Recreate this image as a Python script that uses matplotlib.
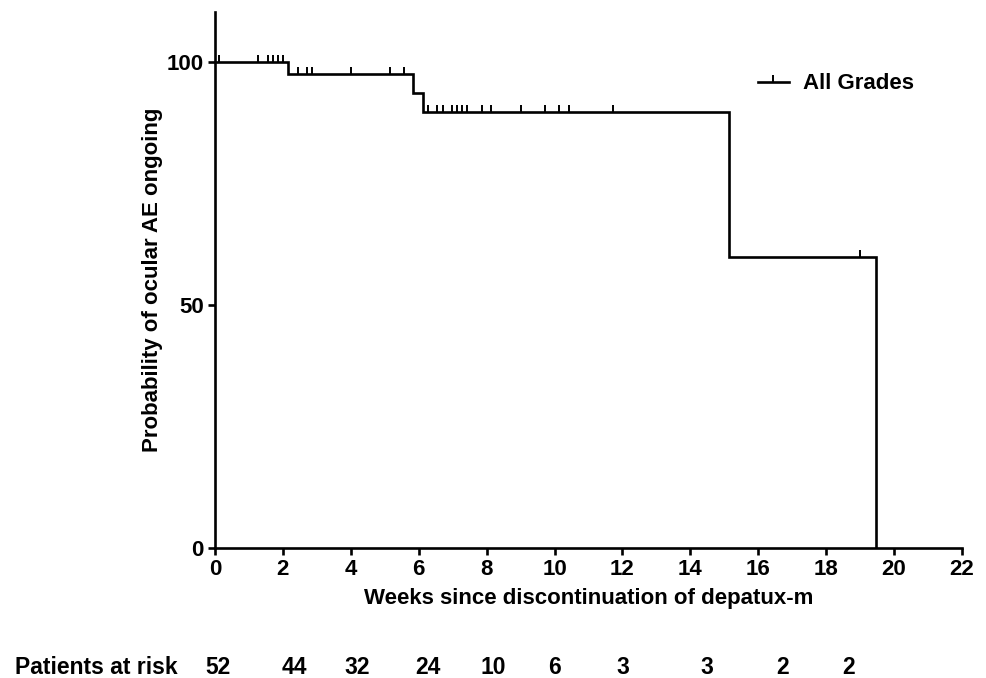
import matplotlib
matplotlib.use("Agg")
import matplotlib.pyplot as plt

plt.rcParams['font.family'] = ['Liberation Sans', 'DejaVu Sans']
plt.rcParams['font.weight'] = 'bold'

# Kaplan-Meier step data
step_times = [0, 2.15, 5.83, 6.13, 15.14, 19.47]
step_probs = [100, 97.6, 93.7, 89.8, 59.9, 0]

censor_times = [0.12, 1.27, 1.56, 1.71, 1.86, 2.01,
                2.43, 2.72, 2.87, 4.0, 5.15, 5.57,
                6.28, 6.55, 6.72, 6.97, 7.12, 7.26, 7.41, 7.85, 8.14, 9.0, 9.72, 10.14, 10.43, 11.71,
                19.0]

risk_label = "Patients at risk"
risk_counts = [52, 44, 32, 24, 10, 6, 3, 3, 2, 2]
risk_positions = [0.09, 2.33, 4.18, 6.27, 8.19, 10.0, 12.0, 14.5, 16.73, 18.67]

x_ticks = list(range(0, 23, 2))
y_ticks = [0, 50, 100]

def prob_at(t):
    p = step_probs[0]
    for st, sp in zip(step_times, step_probs):
        if t >= st:
            p = sp
    return p

fig = plt.figure(figsize=(9.87, 6.78), dpi=100)
ax = fig.add_axes([215/987, 1-548/678, 747/987, 536/678])

ax.step(step_times, step_probs, where='post', color='black', lw=1.9, solid_joinstyle='miter')
ax.plot(censor_times, [prob_at(t) for t in censor_times], linestyle='none',
        marker=2, markersize=5, mew=1.4, color='black')

# legend
ax.plot([], [], color='black', lw=1.9, marker=2, markersize=5, mew=1.4, label='All Grades')
leg = ax.legend(loc='center left', bbox_to_anchor=(0.7, 1-72/536), frameon=False,
                handlelength=1.4, fontsize=16, handletextpad=0.65)

ax.set_xlim(0, 22)
ax.set_ylim(0, 110.3)
ax.set_xticks(x_ticks)
ax.set_yticks(y_ticks)
ax.spines['top'].set_visible(False)
ax.spines['right'].set_visible(False)
for s in ['left', 'bottom']:
    ax.spines[s].set_linewidth(1.9)
ax.tick_params(axis='both', which='major', direction='out', length=5, width=1.9,
               labelsize=16, pad=3)
for lab in ax.get_xticklabels() + ax.get_yticklabels():
    lab.set_fontweight('bold')

ax.set_xlabel("Weeks since discontinuation of depatux-m", fontsize=16, fontweight='bold', labelpad=6)
ax.set_ylabel("Probability of ocular AE ongoing", fontsize=16, fontweight='bold', labelpad=3)

# risk table
fig.text(15/987, 1-668/678, risk_label, fontsize=16.5, fontweight='bold', ha='left', va='center')
for pos, n in zip(risk_positions, risk_counts):
    xf = (215 + pos*747/22)/987
    fig.text(xf, 1-668/678, str(n), fontsize=16.5, fontweight='bold', ha='center', va='center')

fig.savefig("out.png", dpi=100)
